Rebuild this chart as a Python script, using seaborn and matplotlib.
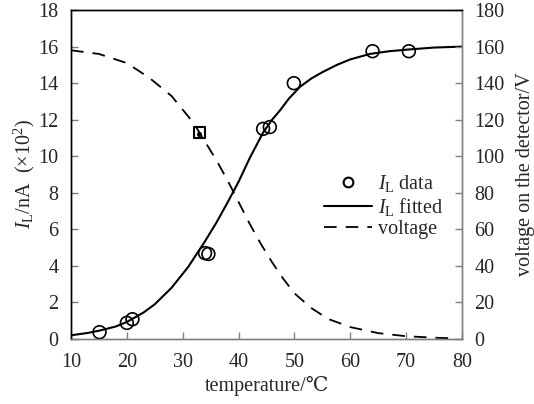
import matplotlib
matplotlib.use("Agg")
import matplotlib.pyplot as plt
import seaborn as sns
import pandas as pd
from matplotlib.lines import Line2D

# ---- data ----
data_T = [15.1, 20.0, 21.0, 34.0, 34.6, 44.4, 45.6, 49.9, 64.0, 70.5]
data_IL = [0.37, 0.88, 1.08, 4.70, 4.65, 11.50, 11.60, 14.00, 15.75, 15.75]

fit_T = [10, 13, 15, 18, 20, 23, 25, 28, 31, 34, 36, 38, 40, 42, 44.4, 46, 47.4, 49, 51, 53, 55,
         57.6, 60, 63.5, 67, 70.7, 75, 80]
fit_IL = [0.20, 0.33, 0.45, 0.68, 0.93, 1.45, 1.90, 2.80, 3.95, 5.35, 6.35, 7.45, 8.60, 9.90, 11.30,
          12.00, 12.50, 13.15, 13.80, 14.25, 14.60, 15.00, 15.30, 15.60, 15.75, 15.85, 15.95, 16.00]

volt_T = [10, 15, 20, 24, 28, 32, 34, 36, 38, 40, 42, 44, 46, 48, 50, 53, 56, 60, 65, 70, 75, 78]
volt_V = [158, 156, 151, 143, 133, 118, 108, 98, 87, 75, 63, 52, 42, 33, 25, 17, 11, 6.5, 3.2, 1.5, 0.7, 0.4]

mark_T = [33.0]
mark_IL = [11.3]
dot_IL = [11.2]

sns.set_style("ticks")
plt.rcParams['font.family'] = ['Liberation Serif', 'DejaVu Serif']
plt.rcParams['mathtext.fontset'] = 'custom'
plt.rcParams['mathtext.rm'] = 'Liberation Serif'
plt.rcParams['mathtext.it'] = 'Liberation Serif:italic'
FS = 14.5
plt.rcParams['font.size'] = FS

fig = plt.figure(figsize=(5.34, 4.04), dpi=100)
ax = fig.add_axes([0.133, 0.161, 0.732, 0.814])
ax2 = ax.twinx()

df_fit = pd.DataFrame({'T': fit_T, 'I': fit_IL})
df_data = pd.DataFrame({'T': data_T, 'I': data_IL})
df_v = pd.DataFrame({'T': volt_T, 'V': volt_V})

sns.lineplot(data=df_fit, x='T', y='I', ax=ax, color='black', linewidth=1.5, sort=True)
sns.scatterplot(data=df_data, x='T', y='I', ax=ax, marker='o', s=85, facecolor='none',
                edgecolor='black', linewidth=1.2, zorder=3)
sns.scatterplot(x=mark_T, y=mark_IL, ax=ax, marker='s', s=70, facecolor='none',
                edgecolor='black', linewidth=1.5, zorder=4)
sns.scatterplot(x=mark_T, y=dot_IL, ax=ax, marker='o', s=14, color='black', linewidth=0, zorder=5)
sns.lineplot(data=df_v, x='T', y='V', ax=ax2, color='black', linewidth=1.3, dashes=False)
ax2.lines[0].set_dashes([7, 5])

ax.set_xlim(10, 80)
ax.set_ylim(0, 18)
ax2.set_ylim(0, 180)
ax.set_xticks(range(10, 81, 10))
ax.set_yticks(range(0, 19, 2))
ax2.set_yticks(range(0, 181, 20))

ax.set_xlabel('temperature/℃', fontsize=FS, labelpad=3)
ax.set_ylabel(r'$I_{\rm L}$/nA  (×10$^2$)', fontsize=FS, labelpad=1)
ax2.set_ylabel('voltage on the detector/V', fontsize=FS, labelpad=8)

gray = '#808080'
for a in (ax, ax2):
    for s in a.spines.values():
        s.set_linewidth(1.0)
    a.spines['top'].set_color('black')
    a.spines['left'].set_color('black')
    a.spines['bottom'].set_color(gray)
    a.spines['right'].set_color(gray)
ax.tick_params(axis='y', direction='in', length=5, width=1, color=gray, labelsize=FS, pad=9)
ax.tick_params(axis='x', direction='in', length=5, width=1, color=gray, labelsize=FS, pad=10, top=False)
ax2.tick_params(axis='y', direction='in', length=5, width=1, color=gray, labelsize=FS, pad=9)

handles = [
    Line2D([], [], marker='o', linestyle='none', markerfacecolor='none', markeredgecolor='black',
           markersize=7, markeredgewidth=1.5),
    Line2D([], [], color='black', linewidth=1.5),
    Line2D([], [], color='black', linewidth=1.3, dashes=[7, 5]),
]
labels = [r'$I_{\rm L}$ data', r'$I_{\rm L}$ fitted', 'voltage']
if ax.get_legend():
    ax.get_legend().remove()
ax2.legend(handles, labels, loc='center left', bbox_to_anchor=(0.61, 0.405), frameon=False,
           fontsize=FS, handlelength=2.4, handletextpad=0.3, labelspacing=0.1, borderpad=0.2)

fig.savefig('out.png', dpi=100)
